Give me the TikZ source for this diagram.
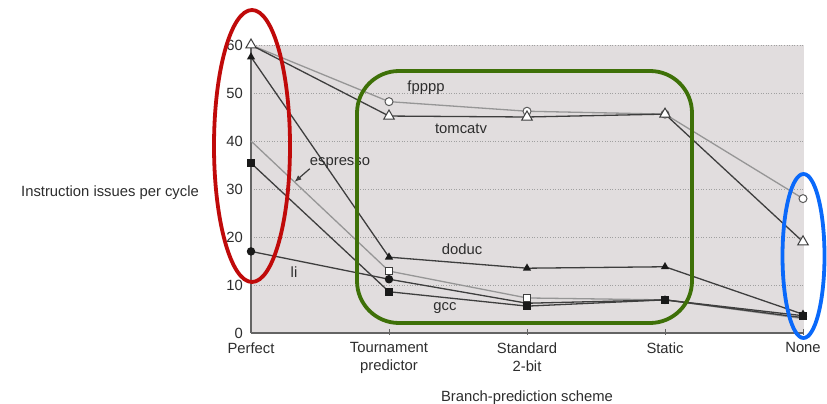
\documentclass[tikz,border=0pt]{standalone}
\usepackage{fontspec}
\setmainfont{Liberation Sans}
\usetikzlibrary{shapes.geometric,arrows.meta,calc}

\definecolor{plotbg}{RGB}{225,221,222}
\definecolor{gridc}{RGB}{160,160,160}
\definecolor{axisc}{RGB}{100,100,100}
\definecolor{darkln}{RGB}{62,62,62}
\definecolor{lightln}{RGB}{150,150,150}
\definecolor{txt}{RGB}{45,45,45}
\definecolor{mkfill}{RGB}{25,25,25}
\definecolor{hlred}{RGB}{192,10,10}
\definecolor{hlgreen}{RGB}{62,112,8}
\definecolor{hlblue}{RGB}{10,105,250}

\tikzset{
  lbl/.style={text=txt, font=\fontsize{14.8}{18}\selectfont, inner sep=0pt},
  darkline/.style={draw=darkln, line width=1.3pt, line join=round},
  lightline/.style={draw=lightln, line width=1.3pt, line join=round},
  mk/.style={inner sep=0pt, outer sep=0pt, line width=1pt},
  otri/.style={mk, regular polygon, regular polygon sides=3, minimum size=12pt, draw=darkln, fill=white},
  ftri/.style={mk, regular polygon, regular polygon sides=3, minimum size=9.5pt, fill=mkfill},
  ocirc/.style={mk, circle, minimum size=8pt, draw=darkln!85, fill=white},
  fcirc/.style={mk, circle, minimum size=8.5pt, fill=mkfill},
  osq/.style={mk, rectangle, minimum size=7.5pt, draw=darkln, fill=white},
  fsq/.style={mk, rectangle, minimum size=8pt, fill=mkfill},
  hl/.style={line width=3.8pt},
}

\begin{document}
\begin{tikzpicture}[x=1pt,y=-1pt]
\useasboundingbox (0,0) rectangle (827,404);
\fill[white] (0,0) rectangle (827,404);

% ---- plot area: one unit in x per scheme, y in issues per cycle
\begin{scope}[shift={(251,333)}, x=138pt, y=4.8pt]
  \fill[plotbg] (-0.008,0) rectangle (4.01,60);
  \foreach \g in {10,20,...,60}
    \draw[gridc, line width=0.8pt, dash pattern=on 1pt off 1.6pt] (0,\g) -- (4.01,\g);
  \draw[axisc, line width=1.5pt] (0,0) -- (0,60);
  \draw[axisc, line width=1.5pt] (0,0) -- (4.01,0);
  \foreach \i in {1,...,4}
    \draw[axisc, line width=0.8pt] (\i,-0.4) -- (\i,0.8);
  \foreach \g in {0,10,...,60}
    \node[lbl, anchor=east] (yl\g) at (-0.058,\g) {\g};

  % data points of each benchmark
  \foreach \v [count=\i from 0] in {60,48.2,46.2,45.6,28}  \coordinate (fp\i) at (\i,\v);
  \foreach \v [count=\i from 0] in {60,45.2,45,45.6,19}    \coordinate (tc\i) at (\i,\v);
  \foreach \v [count=\i from 0] in {57.5,15.8,13.5,13.8,3.9} \coordinate (dd\i) at (\i,\v);
  \foreach \v [count=\i from 0] in {40,12.9,7.3,6.9,3.0}   \coordinate (es\i) at (\i,\v);
  \foreach \v [count=\i from 0] in {35.4,8.6,5.6,6.9,3.6}  \coordinate (gc\i) at (\i,\v);
  \foreach \v [count=\i from 0] in {17,11.2,6.2,6.9,3.2}   \coordinate (li\i) at (\i,\v);

  % connecting lines
  \draw[lightline] (fp0) -- (fp1) -- (fp2) -- (fp3) -- (fp4);
  \draw[lightline] (es0) -- (es1) -- (es2) -- (es3) -- (es4);
  \draw[darkline] (tc0) -- (tc1) -- (tc2) -- (tc3) -- (tc4);
  \draw[darkline] (dd0) -- (dd1) -- (dd2) -- (dd3) -- (dd4);
  \draw[darkline] (gc0) -- (gc1) -- (gc2) -- (gc3) -- (gc4);
  \draw[darkline] (li0) -- (li1) -- (li2) -- (li3) -- (li4);

  % markers
  \node[fcirc] (mli2) at (li2) {};
  \foreach \i in {1,...,4} \node[ocirc] (mfp\i) at (fp\i) {};
  \foreach \i in {0,...,4} \node[otri] (mtc\i) at (tc\i) {};
  \foreach \i in {0,...,4} \node[ftri] (mdd\i) at (dd\i) {};
  \foreach \i in {1,2,3} \node[osq] (mes\i) at (es\i) {};
  \foreach \i in {0,...,4} \node[fsq] (mgc\i) at (gc\i) {};
  \foreach \i in {0,1,3} \node[fcirc] (mli\i) at (li\i) {};
\end{scope}

% ---- benchmark names
\node[lbl] (lfp) at (426,88) {fpppp};
\node[lbl] (ltc) at (461,129) {tomcatv};
\node[lbl] (ldd) at (462,249) {doduc};
\node[lbl] (lgc) at (445,308) {gcc};
\node[lbl] (les) at (340,163) {espresso};
\node[lbl] (lli) at (294,272) {li};
\coordinate (estip) at ($(es0)!0.315!(es1)$);
\draw[darkln, line width=1.2pt, -{Latex[length=7pt,width=5.5pt]}] (les.south west) -- (estip);

% ---- axis titles and scheme names
\node[lbl] (ytitle) at (110,193) {Instruction issues per cycle};
\node[lbl, anchor=north, align=center] (s0) at (251,342.5) {Perfect};
\node[lbl, anchor=north, align=center] (s1) at (389,342.5) {Tournament\\predictor};
\node[lbl, anchor=north, align=center] (s2) at (527,342.5) {Standard\\2-bit};
\node[lbl, anchor=north, align=center] (s3) at (665,342.5) {Static};
\node[lbl, anchor=north, align=center] (s4) at (803,342.5) {None};
\node[lbl] (xtitle) at (527,398) {Branch-prediction scheme};

% ---- highlight outlines
\draw[hlred, hl] (252,146) ellipse [x radius=38pt, y radius=136pt];
\draw[hlgreen, hl, rounded corners=42pt] (357,71) rectangle (692,323);
\draw[hlblue, hl] (803.5,256) ellipse [x radius=21pt, y radius=82pt];
\end{tikzpicture}
\end{document}
